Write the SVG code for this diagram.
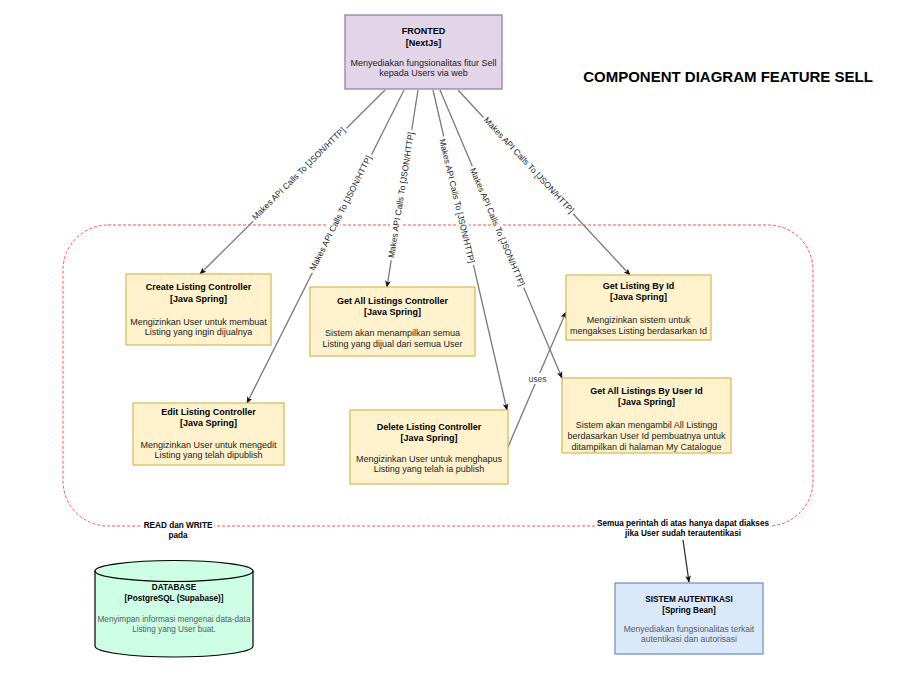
<svg xmlns="http://www.w3.org/2000/svg" width="909" height="678" viewBox="0 0 909 678">
<style>
text{font-family:"Liberation Sans",Arial,sans-serif;font-size:9px;fill:#1a1a1a}
.t{font-weight:bold;fill:#000}
.s{font-size:8.2px}
.d{fill:#222}
.g{fill:#5a5a5a}
.lbl{font-size:8.5px;fill:#222}
.yb{fill:#fff2cc;stroke:#d6b656;stroke-width:1.2}
.e{fill:none;stroke:#7a7a7a;stroke-width:1.3;marker-end:url(#ah)}
.bg{fill:#fff}
</style>
<defs>
<marker id="ah" viewBox="0 0 10 8" refX="9" refY="4" markerWidth="7" markerHeight="6" orient="auto" markerUnits="userSpaceOnUse">
<path d="M0,0 L10,4 L0,8 L2.5,4 Z" fill="#111"/>
</marker>
</defs>
<rect width="909" height="678" fill="#fff"/>
<text x="728" y="82" class="t" text-anchor="middle" style="font-size:15px">COMPONENT DIAGRAM FEATURE SELL</text>

<g id="container">
<rect x="63" y="225" width="750" height="301" rx="45" ry="45" fill="none" stroke="#ff5050" stroke-width="1" stroke-dasharray="3 2"/>
<rect x="142" y="517" width="72" height="23" class="bg"/>
<text x="178" y="528" class="t s" text-anchor="middle">READ dan WRITE</text>
<text x="178" y="538" class="t s" text-anchor="middle">pada</text>
<rect x="596" y="515" width="174" height="23" class="bg"/>
<text x="683" y="526" class="t s" text-anchor="middle">Semua perintah di atas hanya dapat diakses</text>
<text x="683" y="536" class="t s" text-anchor="middle">jika User sudah terautentikasi</text>
</g>

<g id="connectors">
<line x1="385" y1="90" x2="200" y2="274" class="e"/>
<line x1="404" y1="90" x2="247" y2="403" class="e"/>
<line x1="418" y1="90" x2="387" y2="287" class="e"/>
<line x1="433" y1="90" x2="507" y2="410" class="e"/>
<line x1="440" y1="90" x2="562" y2="378" class="e"/>
<line x1="458" y1="90" x2="630" y2="275" class="e"/>
<line x1="508" y1="447" x2="566" y2="312" class="e"/>
<line x1="683" y1="540" x2="689" y2="582" class="e" style="stroke:#333"/>
<g transform="translate(298.5,173.5) rotate(-44.8)"><rect x="-66" y="-6" width="132" height="11" class="bg"/><text y="3" class="lbl" text-anchor="middle">Makes API Calls To [JSON/HTTP]</text></g>
<g transform="translate(340.5,213) rotate(-63.3)"><rect x="-66" y="-6" width="132" height="11" class="bg"/><text y="3" class="lbl" text-anchor="middle">Makes API Calls To [JSON/HTTP]</text></g>
<g transform="translate(401,195) rotate(-81)"><rect x="-66" y="-6" width="132" height="11" class="bg"/><text y="3" class="lbl" text-anchor="middle">Makes API Calls To [JSON/HTTP]</text></g>
<g transform="translate(457,201) rotate(76.5)"><rect x="-66" y="-6" width="132" height="11" class="bg"/><text y="3" class="lbl" text-anchor="middle">Makes API Calls To [JSON/HTTP]</text></g>
<g transform="translate(497.5,227) rotate(67)"><rect x="-66" y="-6" width="132" height="11" class="bg"/><text y="3" class="lbl" text-anchor="middle">Makes API Calls To [JSON/HTTP]</text></g>
<g transform="translate(529,165) rotate(47)"><rect x="-66" y="-6" width="132" height="11" class="bg"/><text y="3" class="lbl" text-anchor="middle">Makes API Calls To [JSON/HTTP]</text></g>
<rect x="527" y="373" width="21" height="11" class="bg"/>
<text x="537.5" y="382" class="lbl" text-anchor="middle" style="fill:#3a3a5a">uses</text>
</g>

<g id="frontend">
<rect x="345" y="15" width="157" height="74" fill="#e1d5e7" stroke="#9673a6" stroke-width="1.2"/>
<text x="423.5" y="34" class="t" text-anchor="middle">FRONTED</text>
<text x="423.5" y="46" class="t" text-anchor="middle">[NextJs]</text>
<text x="423.5" y="66" class="d" text-anchor="middle">Menyediakan fungsionalitas fitur Sell</text>
<text x="423.5" y="76" class="d" text-anchor="middle">kepada Users via web</text>
</g>

<g id="create-listing">
<rect x="126" y="274" width="145" height="71" class="yb"/>
<text x="198.5" y="290" class="t" text-anchor="middle">Create Listing Controller</text>
<text x="198.5" y="302" class="t" text-anchor="middle">[Java Spring]</text>
<text x="198.5" y="324.5" class="d" text-anchor="middle">Mengizinkan User untuk membuat</text>
<text x="198.5" y="335" class="d" text-anchor="middle">Listing yang ingin dijualnya</text>
</g>

<g id="get-all-listings">
<rect x="310" y="287" width="165" height="69" class="yb"/>
<text x="392.5" y="304" class="t" text-anchor="middle">Get All Listings Controller</text>
<text x="392.5" y="315" class="t" text-anchor="middle">[Java Spring]</text>
<text x="392.5" y="336" class="d" text-anchor="middle">Sistem akan menampilkan semua</text>
<text x="392.5" y="346.5" class="d" text-anchor="middle">Listing yang dijual dari semua User</text>
</g>

<g id="get-listing-by-id">
<rect x="566" y="275" width="145" height="65" class="yb"/>
<text x="638.5" y="289" class="t" text-anchor="middle">Get Listing By Id</text>
<text x="638.5" y="299.5" class="t" text-anchor="middle">[Java Spring]</text>
<text x="638.5" y="322.5" class="d" text-anchor="middle">Mengizinkan sistem untuk</text>
<text x="638.5" y="334" class="d" text-anchor="middle">mengakses Listing berdasarkan Id</text>
</g>

<g id="edit-listing">
<rect x="133" y="403" width="151" height="62" class="yb"/>
<text x="208.5" y="415" class="t" text-anchor="middle">Edit Listing Controller</text>
<text x="208.5" y="425.5" class="t" text-anchor="middle">[Java Spring]</text>
<text x="208.5" y="447.5" class="d" text-anchor="middle">Mengizinkan User untuk mengedit</text>
<text x="208.5" y="458" class="d" text-anchor="middle">Listing yang telah dipublish</text>
</g>

<g id="delete-listing">
<rect x="350" y="410" width="158" height="74" class="yb"/>
<text x="429" y="430" class="t" text-anchor="middle">Delete Listing Controller</text>
<text x="429" y="440.5" class="t" text-anchor="middle">[Java Spring]</text>
<text x="429" y="461.5" class="d" text-anchor="middle">Mengizinkan User untuk menghapus</text>
<text x="429" y="471.5" class="d" text-anchor="middle">Listing yang telah ia publish</text>
</g>

<g id="get-all-by-user">
<rect x="562" y="378" width="169" height="75" class="yb"/>
<text x="646.5" y="394" class="t" text-anchor="middle">Get All Listings By User Id</text>
<text x="646.5" y="405" class="t" text-anchor="middle">[Java Spring]</text>
<text x="646.5" y="428" class="d" text-anchor="middle">Sistem akan mengambil All Listingg</text>
<text x="646.5" y="439" class="d" text-anchor="middle">berdasarkan User Id pembuatnya untuk</text>
<text x="646.5" y="449.5" class="d" text-anchor="middle">ditampilkan di halaman My Catalogue</text>
</g>

<g id="database">
<path d="M95,571 A79,10.5 0 0 1 253,571 L253,646 A79,11 0 0 1 95,646 Z" fill="#ccffe6" stroke="#000" stroke-width="1.2"/>
<path d="M95,571 A79,10.5 0 0 0 253,571" fill="none" stroke="#000" stroke-width="1.2"/>
<text x="174" y="590" class="t s" text-anchor="middle">DATABASE</text>
<text x="174" y="601" class="t s" text-anchor="middle">[PostgreSQL (Supabase)]</text>
<text x="174" y="621.5" class="g s" text-anchor="middle">Menyimpan informasi mengenai data-data</text>
<text x="174" y="632" class="g s" text-anchor="middle">Listing yang User buat.</text>
</g>

<g id="auth">
<rect x="615" y="583" width="148" height="71" fill="#dae8fc" stroke="#6c8ebf" stroke-width="1.2"/>
<text x="689" y="602" class="t s" text-anchor="middle">SISTEM AUTENTIKASI</text>
<text x="689" y="613" class="t s" text-anchor="middle">[Spring Bean]</text>
<text x="689" y="632" class="g" text-anchor="middle" style="font-size:8.5px">Menyediakan fungsionalitas terkait</text>
<text x="689" y="641.5" class="g" text-anchor="middle" style="font-size:8.5px">autentikasi dan autorisasi</text>
</g>
</svg>
